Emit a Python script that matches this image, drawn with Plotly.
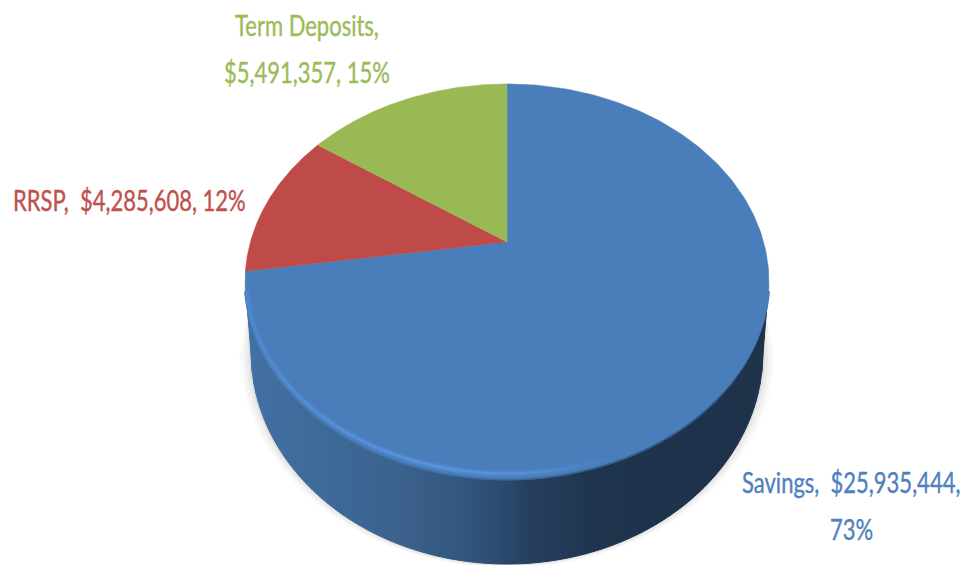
import numpy as np
import plotly.graph_objects as go

categories = ["Savings", "RRSP", "Term Deposits"]
values = [25935444, 4285608, 5491357]
percent_labels = ["73%", "12%", "15%"]
slice_colors = ["#4A7EBB", "#BE4B48", "#98B954"]
label_colors = ["#4F81BD", "#C0504D", "#9BBB59"]

# Perspective view of the pie plane, in page pixels
APEX_X, APEX_Y = 507.0, 242.0
A, B, K = 256.6, 190.0, 0.202
DEPTH = 70.0
BOTTOM_RX = 256.0
BOTTOM_RY = 212.0
W, H = 966, 565


def project(theta):
    u, v = np.sin(theta), np.cos(theta)
    d = 1 + K * v
    return APEX_X + A * u / d, APEX_Y - B * v / d


# Outline ellipse implied by the perspective
RX = A / np.sqrt(1 - K * K)
top_y = APEX_Y - B / (1 + K)
low_y = APEX_Y + B / (1 - K)
CY = (top_y + low_y) / 2
RY = (low_y - top_y) / 2
BOTTOM_CY = CY + DEPTH


def lower_top(x):
    t = np.clip((x - APEX_X) / RX, -1, 1)
    return CY + RY * np.sqrt(1 - t * t)


def lower_bottom(x):
    dx = np.abs(np.asarray(x) - APEX_X)
    t = np.clip(dx / BOTTOM_RX, 0, 1)
    y = BOTTOM_CY + BOTTOM_RY * np.sqrt(1 - t * t)
    over = np.clip((dx - BOTTOM_RX) / (RX - BOTTOM_RX), 0, 1)
    return y - over * DEPTH


def mix(stops, x):
    xs = [s[0] for s in stops]
    rgb = [np.interp(x, xs, [s[1][i] for s in stops]) for i in range(3)]
    return "rgb(%d,%d,%d)" % tuple(int(round(c)) for c in rgb)


side_stops = [
    (248, (66, 113, 163)), (320, (62, 106, 153)), (400, (59, 98, 141)),
    (470, (49, 86, 125)), (530, (38, 64, 95)), (600, (31, 52, 77)), (770, (30, 50, 74)),
]
# Highlight inside the near edge of the top face
glow_stops = [
    (245, (80, 136, 204)), (300, (84, 142, 212)), (430, (90, 149, 222)),
    (530, (86, 142, 211)), (610, (74, 126, 187)), (770, (74, 126, 187)),
]
soft_stops = [
    (245, (76, 130, 194)), (430, (80, 135, 203)), (530, (78, 132, 197)),
    (610, (74, 126, 187)), (770, (74, 126, 187)),
]
edge_stops = [
    (245, (78, 132, 196)), (300, (72, 120, 178)), (430, (66, 110, 165)),
    (530, (60, 100, 150)), (620, (54, 90, 136)), (770, (48, 80, 120)),
]

fig = go.Figure()


def add_poly(xs, ys, color):
    fig.add_trace(go.Scatter(
        x=xs, y=ys, mode="lines", fill="toself", fillcolor=color,
        line=dict(color=color, width=1), hoverinfo="skip", showlegend=False,
    ))


def add_arc(inset_min, inset_extra, width, stops):
    phi = np.linspace(np.pi * 0.985, 0.015 * np.pi, 120)
    inset = inset_min + inset_extra * np.sin(phi)
    ax = APEX_X + (RX - inset) * np.cos(phi)
    ay = CY + (RY - inset) * np.sin(phi)
    for i in range(len(phi) - 1):
        fig.add_trace(go.Scatter(
            x=ax[i:i + 2], y=ay[i:i + 2], mode="lines",
            line=dict(color=mix(stops, ax[i]), width=width),
            hoverinfo="skip", showlegend=False,
        ))


# Soft shadow around the drum
ang = np.linspace(0.0, np.pi, 200)
for grow, alpha in [(11, 0.025), (8, 0.04), (5, 0.05), (2, 0.07)]:
    sx = APEX_X + (BOTTOM_RX + grow) * np.cos(ang)
    sy = BOTTOM_CY + (BOTTOM_RY + grow * 0.3) * np.sin(ang)
    sx = np.r_[APEX_X + RX - 4, sx, APEX_X - RX + 4, APEX_X + RX - 4]
    sy = np.r_[CY + 30, sy, CY + 30, CY + 30]
    add_poly(sx, sy, "rgba(90,90,90,%.3f)" % alpha)

# Side wall, shaded left to right
edges = np.arange(APEX_X - RX + 1, APEX_X + RX, 2.0)
for x0, x1 in zip(edges[:-1], edges[1:]):
    xs = np.linspace(x0, x1, 3)
    add_poly(
        np.r_[xs, xs[::-1]],
        np.r_[lower_top(xs) - 1, lower_bottom(xs[::-1])],
        mix(side_stops, (x0 + x1) / 2),
    )

# Top face slices, clockwise from twelve o'clock
fractions = np.array(values, dtype=float) / sum(values)
starts = np.r_[0, np.cumsum(fractions)[:-1]] * 2 * np.pi
for start, frac, name, color in zip(starts, fractions, categories, slice_colors):
    th = np.linspace(start, start + frac * 2 * np.pi, 240)
    px, py = project(th)
    fig.add_trace(go.Scatter(
        x=np.r_[APEX_X, px, APEX_X], y=np.r_[APEX_Y, py, APEX_Y],
        mode="lines", fill="toself", fillcolor=color,
        line=dict(color=color, width=0.5), name=name,
        hoverinfo="name", showlegend=False,
    ))

# Bevel along the near edge
add_arc(0.5, 0.0, 1.5, edge_stops)
add_arc(1.5, 5.0, 6, soft_stops)
add_arc(1.5, 5.0, 2.5, glow_stops)

money = ["$" + format(v, ",") for v in values]
label_lines = [
    (f"{categories[0]},  {money[0]},", 851, 481.5, 0),
    (percent_labels[0], 851, 528.5, 0),
    (f"{categories[1]},  {money[1]}, {percent_labels[1]}", 129, 199, 1),
    (f"{categories[2]},", 307, 24.5, 2),
    (f"{money[2]}, {percent_labels[2]}", 307, 71, 2),
]
for text, lx, ly, ci in label_lines:
    fig.add_annotation(
        x=lx, y=ly, xref="x", yref="y", text=text, showarrow=False,
        align="center", xanchor="center", yanchor="middle",
        font=dict(family="Lato", size=22, color=label_colors[ci]),
    )

fig.update_layout(
    width=W, height=H, margin=dict(l=0, r=0, t=0, b=0),
    paper_bgcolor="white", plot_bgcolor="white", showlegend=False,
    xaxis=dict(range=[0, W], visible=False, fixedrange=True),
    yaxis=dict(range=[H, 0], visible=False, fixedrange=True),
)
fig.write_html(
    "out.html", config={"displayModeBar": False},
    post_script=(
        "document.body.style.margin='0';"
        "document.documentElement.style.overflow='hidden';"
        "document.querySelectorAll('.annotation-text').forEach(function(t){"
        "t.style.transformBox='fill-box';t.style.transformOrigin='center';"
        "t.style.transform='scaleY(1.35)';t.style.stroke=t.style.fill;"
        "t.style.strokeWidth='0.3px';});"
    ),
)
